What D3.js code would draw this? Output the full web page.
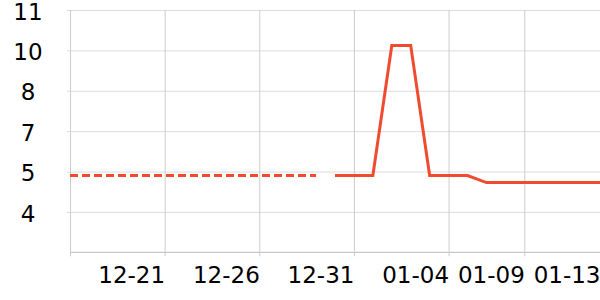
<!DOCTYPE html>
<html>
<head>
<meta charset="utf-8">
<script src="https://cdn.jsdelivr.net/npm/d3@7"></script>
<style>
  html, body { margin: 0; padding: 0; background: #fff; }
  svg { display: block; }
</style>
</head>
<body>
<svg id="chart" width="600" height="300"></svg>
<script>
// ---- data ----
const categoryCount = 29;                       // category slots, index 0..28
const xTickIndex  = [0, 5, 10, 15, 20, 24, 28];
const xTickLabels = ["", "12-21", "12-26", "12-31", "01-04", "01-09", "01-13"];
const yTickValues = [2, 3.5, 5, 6.5, 8, 9.5, 11];
const yTickLabels = ["", "4", "5", "7", "8", "10", "11"];
// dashed series: indices 0..13
const dashedIndex  = [0, 1, 2, 3, 4, 5, 6, 7, 8, 9, 10, 11, 12, 13];
const dashedValues = [4.85, 4.85, 4.85, 4.85, 4.85, 4.85, 4.85, 4.85, 4.85, 4.85, 4.85, 4.85, 4.85, 4.85];
// solid series: indices 14..28
const solidIndex  = [14, 15, 16, 17, 18, 19, 20, 21, 22, 23, 24, 25, 26, 27, 28];
const solidValues = [4.85, 4.85, 4.85, 9.68, 9.68, 4.85, 4.85, 4.85, 4.59, 4.59, 4.59, 4.59, 4.59, 4.59, 4.59];

(function () {
// ---- layout ----
const svg = d3.select("#chart");
const mLeft = 70, mRight = 600, mTop = 10, mBottom = 252.3;
const font = "'DejaVu Sans', sans-serif";
const lineColor = "#f04b2e";

const x = d3.scaleLinear().domain([0, categoryCount - 1]).range([mLeft, mRight]);
const y = d3.scaleLinear().domain([2, 11]).range([mBottom, mTop]);

// horizontal grid + y labels
const yAxis = d3.axisLeft(y)
  .tickValues(yTickValues)
  .tickSize(0)
  .tickFormat((d, i) => yTickLabels[i]);
const gy = svg.append("g").attr("transform", `translate(${mLeft - 3},0)`).call(yAxis);
gy.select(".domain").remove();
gy.selectAll(".tick line").attr("stroke", "#dcdcdc").attr("stroke-width", 1)
  .attr("x1", 0).attr("x2", mRight - mLeft + 3);
gy.selectAll(".tick").filter(d => d === 2).select("line").remove();
gy.selectAll(".tick text")
  .attr("x", 28 - (mLeft - 3))
  .attr("dy", "0.4em")
  .attr("text-anchor", "middle")
  .attr("fill", "#000")
  .style("font-family", font)
  .style("font-size", "23px");

// vertical grid + x labels
const xAxis = d3.axisBottom(x)
  .tickValues(xTickIndex)
  .tickSize(4)
  .tickFormat((d, i) => xTickLabels[i]);
const gx = svg.append("g").attr("transform", `translate(0,${mBottom})`).call(xAxis);
gx.select(".domain").attr("stroke", "#bbbbbb").attr("d", `M${mLeft},0H${mRight}`);
gx.selectAll(".tick line").attr("stroke", "#cccccc").attr("y1", -(mBottom - mTop)).attr("y2", 4);
gx.selectAll(".tick text")
  .attr("y", 30.5)
  .attr("dy", 0)
  .attr("text-anchor", "end")
  .attr("fill", "#000")
  .style("font-family", font)
  .style("font-size", "23px");

// lines
const line = d3.line().x(d => x(d[0])).y(d => y(d[1]));
const dashedData = dashedIndex.map((k, i) => [k, dashedValues[i]]);
const solidData = solidIndex.map((k, i) => [k, solidValues[i]]);

svg.append("path").datum(dashedData)
  .attr("d", line).attr("fill", "none")
  .attr("stroke", lineColor).attr("stroke-width", 3)
  .attr("stroke-dasharray", "8,4");

svg.append("path").datum(solidData)
  .attr("d", line).attr("fill", "none")
  .attr("stroke", lineColor).attr("stroke-width", 3)
  .attr("stroke-linejoin", "miter");
})();
</script>
</body>
</html>
